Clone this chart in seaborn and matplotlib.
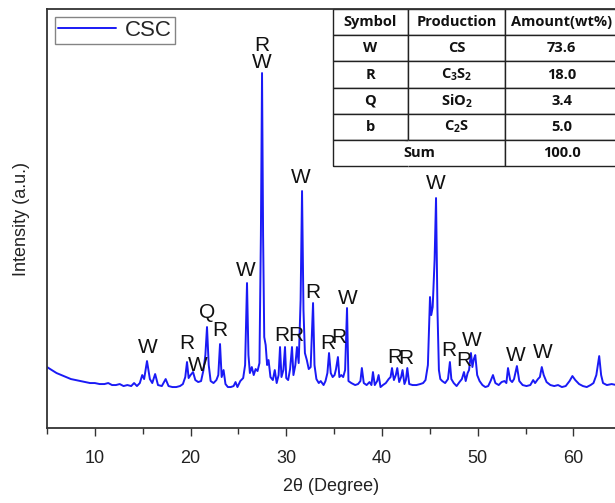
import seaborn as sns
import pandas as pd
import matplotlib
matplotlib.use("Agg")
import matplotlib.pyplot as plt
from matplotlib.ticker import MultipleLocator, NullLocator

# XRD pattern (2theta in degree, intensity in a.u.)
two_theta = [
    5.0, 5.5, 6.0, 6.5, 7.0, 7.5, 8.0, 8.5, 9.0, 9.5, 10.0, 10.5, 11.0, 11.4,
    11.8, 12.2, 12.6, 13.0, 13.4, 13.8, 14.1, 14.4, 14.7, 14.95, 15.15, 15.45,
    15.75, 16.0, 16.3, 16.6, 17.0, 17.4, 17.7, 18.1, 18.5, 18.9, 19.2, 19.45,
    19.63, 19.8, 20.0, 20.26, 20.5, 20.8, 21.1, 21.35, 21.55, 21.72, 21.9,
    22.1, 22.4, 22.7, 22.9, 23.08, 23.25, 23.45, 23.65, 23.9, 24.2, 24.5,
    24.7, 24.9, 25.2, 25.5, 25.7, 25.9, 26.05, 26.2, 26.4, 26.6, 26.8, 27.0,
    27.2, 27.35, 27.47, 27.58, 27.7, 27.85, 28.0, 28.15, 28.35, 28.6, 28.8,
    29.0, 29.2, 29.35, 29.5, 29.7, 29.87, 30.0, 30.2, 30.4, 30.6, 30.75,
    30.95, 31.12, 31.3, 31.5, 31.65, 31.8, 31.95, 32.15, 32.35, 32.55, 32.8,
    32.95, 33.15, 33.4, 33.6, 33.9, 34.1, 34.3, 34.47, 34.65, 34.85, 35.05,
    35.2, 35.4, 35.55, 35.75, 35.95, 36.15, 36.35, 36.5, 36.8, 37.2, 37.5,
    37.75, 37.9, 38.1, 38.4, 38.7, 38.9, 39.06, 39.25, 39.5, 39.65, 39.85,
    40.1, 40.4, 40.7, 40.9, 41.05, 41.25, 41.45, 41.6, 41.8, 42.0, 42.15,
    42.35, 42.5, 42.65, 42.85, 43.2, 43.6, 44.0, 44.3, 44.55, 44.8, 45.02,
    45.15, 45.3, 45.5, 45.65, 45.8, 45.95, 46.1, 46.3, 46.6, 46.9, 47.1,
    47.25, 47.5, 47.8, 48.1, 48.35, 48.57, 48.75, 48.95, 49.1, 49.3, 49.45,
    49.6, 49.75, 49.95, 50.2, 50.5, 50.8, 51.1, 51.35, 51.6, 51.85, 52.2,
    52.5, 52.8, 53.0, 53.17, 53.4, 53.6, 53.8, 54.1, 54.35, 54.7, 55.1, 55.5,
    55.8, 56.0, 56.3, 56.5, 56.7, 56.9, 57.2, 57.6, 58.0, 58.4, 58.8, 59.2,
    59.6, 59.9, 60.2, 60.6, 61.0, 61.4, 61.8, 62.1, 62.4, 62.7, 62.9, 63.1,
    63.5, 64.0, 64.5,
]
intensity = [
    58, 55, 52, 50, 48, 46, 45, 44, 43, 42, 42, 41, 41, 42,
    40, 40, 41, 39, 40, 39, 42, 39, 42, 50, 46, 64,
    46, 42, 51, 40, 39, 46, 39, 38, 38, 39, 41, 48,
    63, 47, 50, 53, 45, 43, 44, 55, 70, 98, 60,
    44, 42, 45, 50, 81, 48, 55, 41, 38, 38, 39,
    43, 38, 44, 47, 60, 142, 70, 52, 58, 50, 56, 54,
    62, 190, 352, 190, 88, 80, 60, 65, 48, 45, 55,
    42, 50, 78, 48, 55, 78, 47, 45, 56, 78, 50,
    60, 78, 62, 125, 234, 115, 72, 65, 56, 58, 122,
    60, 46, 42, 44, 40, 44, 52, 72, 52, 48, 50,
    56, 68, 48, 50, 48, 55, 117, 44, 42, 40, 41,
    44, 57, 42, 40, 43, 40, 53, 40, 44, 50, 38,
    40, 42, 46, 48, 57, 45, 50, 57, 43, 48, 55,
    41, 45, 57, 41, 40, 40, 41, 42, 45, 60, 128,
    110, 118, 165, 227, 115, 55, 46, 44, 42, 46, 63,
    46, 42, 39, 43, 46, 53, 44, 52, 55, 72, 58,
    66, 70, 50, 44, 40, 38, 39, 44, 50, 42, 40,
    43, 44, 42, 57, 45, 43, 46, 59, 44, 40, 39, 40,
    45, 42, 46, 48, 58, 50, 43, 40, 39, 40, 38, 39,
    44, 49, 45, 41, 39, 38, 40, 42, 50, 69, 50, 42,
    40, 41, 40,
]

# phase marks above the peaks
peak_symbols = ["W", "R", "W", "Q", "R", "W", "R", "W", "W", "R", "R", "R",
                "R", "R", "W", "R", "R", "W", "R", "R", "W", "W", "W"]
peak_theta = [15.55, 19.63, 20.78, 21.72, 23.08, 25.79, 27.47, 27.47, 31.5,
              32.8, 29.5, 30.95, 34.3, 35.45, 36.45, 41.3, 42.45, 45.65,
              47.0, 48.57, 49.4, 54.0, 56.8]
peak_height = [78, 82, 60, 113, 95, 155, 380, 363, 248, 133, 90, 90, 82, 88,
               127, 68, 67, 242, 75, 65, 85, 70, 73]

# inset table
table_header = ["Symbol", "Production", "Amount(wt%)"]
table_symbols = ["W", "R", "Q", "b"]
table_products = ["CS", r"C$_\mathbf{3}$S$_\mathbf{2}$",
                  r"SiO$_\mathbf{2}$", r"C$_\mathbf{2}$S"]
table_amounts = ["73.6", "18.0", "3.4", "5.0"]
table_sum = "100.0"

sns.set_style("ticks")
plt.rcParams["font.family"] = ["Liberation Sans", "DejaVu Sans"]
plt.rcParams["mathtext.fontset"] = "custom"
plt.rcParams["mathtext.rm"] = "Open Sans"
plt.rcParams["mathtext.bf"] = "Open Sans:bold"

xrd = pd.DataFrame({"two_theta": two_theta, "intensity": intensity})

fig = plt.figure(figsize=(6.15, 5.03), dpi=100)
ax = fig.add_axes([0.0764, 0.149, 0.9236, 0.833])

sns.lineplot(data=xrd, x="two_theta", y="intensity", ax=ax, color="#1a1af5",
             linewidth=1.4, label="CSC", sort=False)

for sym, t, h in zip(peak_symbols, peak_theta, peak_height):
    ax.text(t, h, sym, ha="center", va="center", fontsize=15, color="#111111")

ax.set_xlim(5, 64.35)
ax.set_ylim(-3, 416)
ax.xaxis.set_major_locator(MultipleLocator(10))
ax.xaxis.set_minor_locator(MultipleLocator(5))
ax.yaxis.set_major_locator(NullLocator())
ax.tick_params(axis="x", which="major", direction="out", length=6, width=1,
               labelsize=13, pad=10, colors="#333333")
ax.tick_params(axis="x", which="minor", direction="out", length=4, width=1,
               colors="#333333")
for lbl in ax.get_xticklabels():
    lbl.set_color("#222222")
ax.spines["right"].set_visible(False)
for side in ["left", "top", "bottom"]:
    ax.spines[side].set_color("#333333")
    ax.spines[side].set_linewidth(1.3)

ax.set_xlabel("2\u03b8 (Degree)", fontsize=13, labelpad=8, color="#222222")
ax.set_ylabel("Intensity (a.u.)", fontsize=13, labelpad=12, color="#222222")

leg = ax.legend(loc="upper left", fontsize=16, frameon=True, fancybox=False,
                handlelength=2.6, borderaxespad=0.35, borderpad=0.15,
                handletextpad=0.4)
leg.get_frame().set_edgecolor("#666666")
leg.get_frame().set_linewidth(1.0)

cells = [table_header]
for s, p, a in zip(table_symbols, table_products, table_amounts):
    cells.append([s, p, a])
cells.append(["", "", table_sum])
tbl = ax.table(cellText=cells, cellLoc="center",
               colWidths=[75, 97, 113], bbox=[0.5035, 0.625, 0.502, 0.375])
tbl.auto_set_font_size(False)
for (r, c), cell in tbl.get_celld().items():
    cell.set_linewidth(1.0)
    cell.set_edgecolor("#222222")
    cell.get_text().set_fontsize(10.5)
    cell.get_text().set_fontweight("bold")
    cell.get_text().set_fontfamily(["Open Sans", "DejaVu Sans"])
    cell.get_text().set_color("#111111")
last = len(cells) - 1
tbl[last, 0].visible_edges = "BLT"
tbl[last, 1].visible_edges = "BRT"
ax.text(0.5035 + 0.502 * (172 / 285) / 2, 0.625 + 0.375 / 12, "Sum",
        transform=ax.transAxes, ha="center", va="center", fontsize=10.5,
        fontweight="bold", family=["Open Sans", "DejaVu Sans"],
        color="#111111")

fig.savefig("out.png", dpi=100)
